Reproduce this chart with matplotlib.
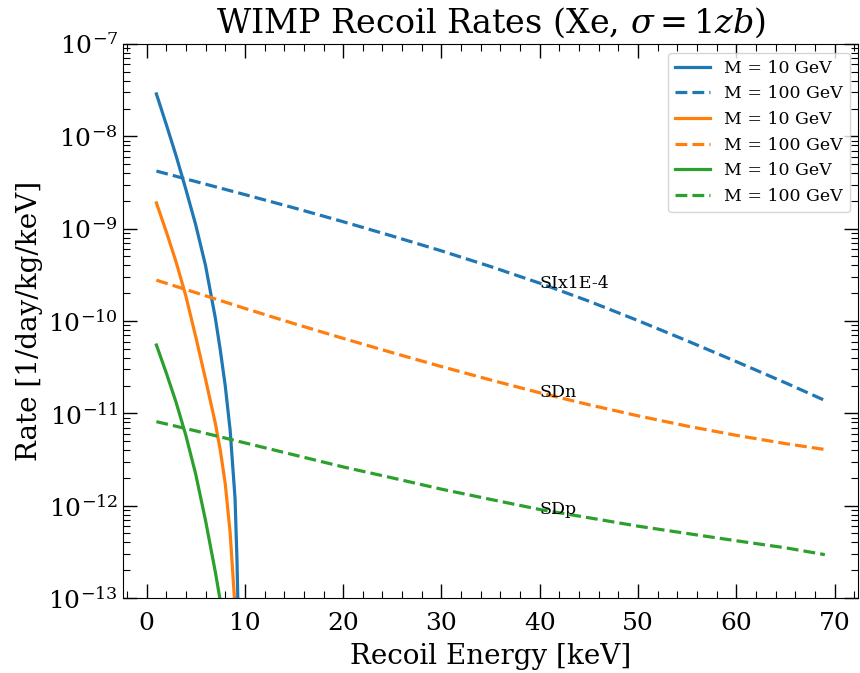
import numpy as np
import matplotlib
matplotlib.use("Agg")
import matplotlib.pyplot as plt
from matplotlib.ticker import MultipleLocator, LogLocator

plt.rcParams['font.family'] = 'DejaVu Serif'
plt.rcParams['mathtext.fontset'] = 'dejavuserif'
plt.rcParams['axes.unicode_minus'] = False

# recoil energies [keV]
E_light = [1, 2, 3, 4, 5, 6, 7, 7.5, 8, 8.5, 9, 9.2, 9.4]
E_heavy = [1, 5, 10, 15, 20, 25, 30, 35, 40, 45, 50, 55, 60, 65, 69]

# SI (scaled by 1E-4)
si_10 = [2.88e-8, 1.35e-8, 6.17e-9, 2.66e-9, 1.10e-9, 3.98e-10, 1.07e-10, 4.84e-11,
         2.0e-11, 6.6e-12, 1.2e-12, 2.5e-13, 2.5e-14]
si_100 = [4.21e-9, 3.24e-9, 2.34e-9, 1.68e-9, 1.19e-9, 8.32e-10, 5.75e-10, 3.89e-10,
          2.57e-10, 1.64e-10, 1.01e-10, 6.1e-11, 3.63e-11, 2.14e-11, 1.38e-11]
# SD neutron
sdn_10 = [1.9e-9, 9.3e-10, 4.37e-10, 1.86e-10, 6.76e-11, 2.34e-11, 7.76e-12, 3.98e-12,
          1.74e-12, 5.1e-13, 7.9e-14, 1e-14, 1e-15]
sdn_100 = [2.77e-10, 2.03e-10, 1.37e-10, 9.37e-11, 6.49e-11, 4.54e-11, 3.21e-11, 2.30e-11,
           1.67e-11, 1.24e-11, 9.4e-12, 7.28e-12, 5.78e-12, 4.70e-12, 4.06e-12]
# SD proton
sdp_10 = [5.5e-11, 2.75e-11, 1.32e-11, 5.75e-12, 2.19e-12, 6.9e-13, 1.9e-13, 9.3e-14,
          4e-14, 2e-14, 5e-15, 2e-15, 1e-15]
sdp_100 = [8.13e-12, 6.46e-12, 4.79e-12, 3.55e-12, 2.63e-12, 2.0e-12, 1.51e-12, 1.17e-12,
           9.1e-13, 7.4e-13, 6.0e-13, 5.0e-13, 4.17e-13, 3.5e-13, 2.95e-13]

labels = ['SIx1E-4', 'SDn', 'SDp']
label_E = 40

fig = plt.figure(figsize=(8.6, 6.73), dpi=100)
ax = fig.add_axes([0.143, 0.1114, 0.855, 0.8232])

lw = 2.3
ax.plot(E_light, si_10, color='C0', lw=lw, label='M = 10 GeV')
ax.plot(E_heavy, si_100, color='C0', lw=lw, ls='--', label='M = 100 GeV')
ax.plot(E_light, sdn_10, color='C1', lw=lw, label='M = 10 GeV')
ax.plot(E_heavy, sdn_100, color='C1', lw=lw, ls='--', label='M = 100 GeV')
ax.plot(E_light, sdp_10, color='C2', lw=lw, label='M = 10 GeV')
ax.plot(E_heavy, sdp_100, color='C2', lw=lw, ls='--', label='M = 100 GeV')

for lab, ser in zip(labels, [si_100, sdn_100, sdp_100]):
    ax.text(label_E, np.interp(label_E, E_heavy, ser), lab, fontsize=12.5, va='center')

ax.set_yscale('log')
ax.set_ylim(1e-13, 1e-7)
ax.set_xlim(-2.4, 72.4)
ax.xaxis.set_major_locator(MultipleLocator(10))
ax.xaxis.set_minor_locator(MultipleLocator(2))
ax.yaxis.set_minor_locator(LogLocator(base=10, subs=np.arange(2, 10)))
ax.tick_params(which='both', direction='in', top=True, right=True, labelsize=18)
ax.tick_params(which='major', length=10, width=1)
ax.tick_params(which='minor', length=5, width=0.8)
ax.tick_params(axis='x', which='major', pad=10)

ax.set_xlabel('Recoil Energy [keV]', fontsize=20, labelpad=6)
ax.set_ylabel('Rate [1/day/kg/keV]', fontsize=20, labelpad=4)
ax.set_title(r'WIMP Recoil Rates (Xe, $\sigma=1zb$)', fontsize=24, pad=8)
ax.legend(loc='upper right', fontsize=12.5)

fig.savefig('out.png', dpi=100)
